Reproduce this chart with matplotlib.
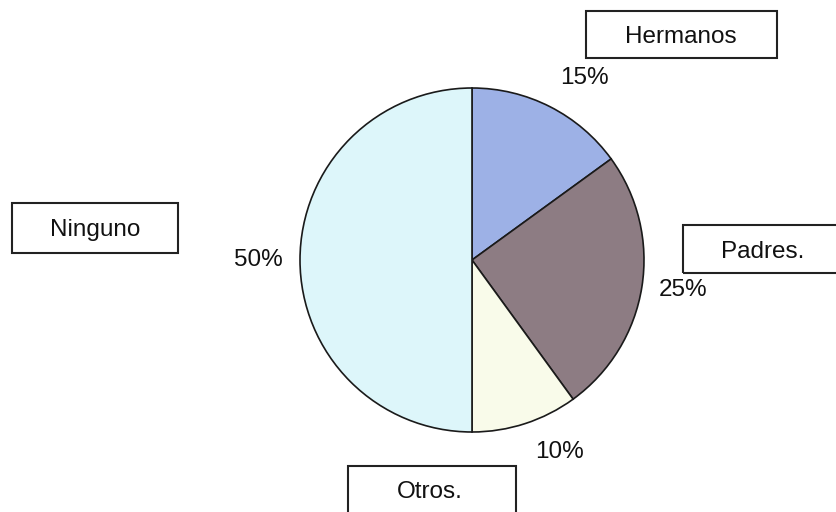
import matplotlib.pyplot as plt
from matplotlib.patches import Rectangle

plt.rcParams['font.family'] = ['Liberation Sans', 'DejaVu Sans']

# datos
categorias = ['Hermanos', 'Padres.', 'Otros.', 'Ninguno']
valores = [15, 25, 10, 50]
colores = ['#9db1e6', '#8d7c83', '#f9fbea', '#ddf6fa']

# posiciones (pixeles, origen arriba a la izquierda), mismo orden que categorias
W, H = 837, 512
centro = (472, 260)
radio = 172
cajas = [(586, 11, 191, 47), (683, 225, 160, 48), (348, 466, 168, 52), (12, 203, 166, 50)]
textos_cajas = [(681, 37), (763, 252), (430, 492), (95, 230)]
textos_pct = [(584, 78), (683, 290), (560, 452), (258, 260)]

fig = plt.figure(figsize=(W / 100, H / 100), dpi=100)
ax = fig.add_axes([0, 0, 1, 1])

ax.pie(valores, colors=colores, startangle=90, counterclock=False,
       center=(centro[0], H - centro[1]), radius=radio, frame=True,
       wedgeprops={'edgecolor': '#1a1a1a', 'linewidth': 1.2})
ax.set_xlim(0, W)
ax.set_ylim(0, H)
ax.set_aspect('equal')
ax.axis('off')

for cat, v, (x, y, w, h), (tx, ty), (px, py) in zip(categorias, valores, cajas, textos_cajas, textos_pct):
    ax.add_patch(Rectangle((x, H - y - h), w, h, fill=False, edgecolor='#222222', linewidth=1.5))
    ax.text(tx, H - ty, cat, fontsize=17.5, ha='center', va='center', color='#111111')
    ax.text(px, H - py, f'{v}%', fontsize=17.5, ha='center', va='center', color='#111111')

fig.savefig('out.png', dpi=100)
